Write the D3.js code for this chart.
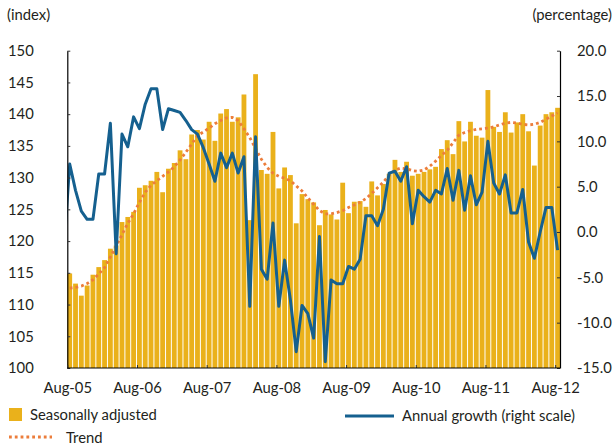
<!DOCTYPE html>
<html>
<head>
<meta charset="utf-8">
<script src="https://cdn.jsdelivr.net/npm/d3@7"></script>
<style>
  body { margin: 0; background: #fff; }
  svg text { font-family: "Lato", "Open Sans", sans-serif; fill: #231f20; }
</style>
</head>
<body>
<div id="chart"></div>
<script>
// Meses do eixo X (um a cada 12 barras)
const tickLabels = ["Aug-05", "Aug-06", "Aug-07", "Aug-08", "Aug-09", "Aug-10", "Aug-11", "Aug-12"];

// Índice dessazonalizado, Aug-05 .. Aug-12 (85 meses)
const seasonal = [
  114.9, 113.3, 111.4, 113.0, 114.7, 115.9, 117.0, 118.8, 119.3, 123.0, 123.8, 124.6,
  128.4, 128.8, 129.5, 130.9, 127.7, 131.4, 132.3, 134.3, 132.9, 136.8, 137.5, 136.0,
  138.8, 135.8, 140.1, 140.8, 138.8, 139.5, 143.1, 123.3, 146.3, 131.2, 130.6, 137.2,
  128.3, 131.6, 130.4, 122.8, 127.4, 126.6, 126.1, 122.5, 124.9, 124.2, 123.4, 129.2,
  124.4, 126.2, 126.3, 125.4, 129.4, 127.2, 129.0, 130.6, 132.8, 130.9, 132.5, 130.3,
  130.6, 130.9, 131.3, 131.7, 134.5, 135.9, 133.7, 138.9, 135.7, 138.8, 136.6, 136.3,
  143.8, 138.0, 137.2, 140.3, 137.1, 138.7, 140.0, 137.3, 131.9, 138.2, 140.0, 140.3,
  141.0
];

// Tendência
const trend = [
  112.6, 112.7, 112.9, 113.3, 113.9, 114.8, 115.8, 117.5, 119.2, 121.0, 122.8, 124.3,
  126.1, 127.7, 128.8, 129.5, 130.2, 130.9, 131.7, 132.8, 134.0, 135.3, 136.6, 137.2,
  137.8, 138.5, 139.0, 139.4, 139.5, 139.0, 137.7, 136.3, 134.6, 132.9, 131.6, 130.7,
  130.2, 129.9, 129.5, 128.7, 127.9, 126.8, 125.8, 124.8, 124.3, 124.3, 124.5, 124.8,
  125.3, 125.7, 126.1, 126.7, 127.5, 128.4, 129.3, 130.4, 131.2, 131.5, 131.4, 131.1,
  131.0, 131.2, 131.8, 132.6, 133.5, 134.3, 135.5, 136.7, 137.1, 137.4, 137.6, 137.7,
  137.8, 138.0, 138.3, 138.6, 138.7, 138.6, 138.4, 138.3, 138.4, 138.7, 139.2, 139.7,
  140.2
];

// Crescimento anual (escala direita); o primeiro valor é Jul-05, cortado pelo eixo
const growthJul05 = -1.9;
const growth = [
  7.5, 4.6, 2.3, 1.4, 1.4, 6.4, 6.4, 12.0, -2.4, 10.8, 9.4, 12.7,
  11.4, 14.1, 15.8, 15.8, 11.3, 13.6, 13.4, 13.2, 12.3, 11.3, 10.8, 9.3,
  7.5, 5.6, 8.7, 7.1, 8.7, 6.5, 8.3, -8.2, 10.5, -4.1, -5.2, 1.0,
  -8.2, -3.1, -7.5, -13.2, -8.1, -9.0, -11.7, -0.5, -14.3, -5.3, -5.7, -5.7,
  -3.8, -4.1, -3.0, 1.8, 1.8, 0.7, 2.5, 6.5, 6.7, 5.6, 7.2, 0.9,
  4.6, 3.9, 3.3, 4.6, 4.2, 7.0, 3.5, 6.8, 2.4, 6.2, 3.0, 4.4,
  10.0, 5.4, 4.2, 6.3, 2.1, 2.1, 4.7, -1.1, -2.9, 0.0, 2.7, 2.7,
  -2.0
];

const width = 616, height = 447;
const plotLeft = 67.3, plotRight = 560, plotTop = 50.7, plotBottom = 368;
const fontSize = "14.8px";

const gold = "#EAB11B", blue = "#15608F", orange = "#EC7D3B";

const svg = d3.select("#chart").append("svg")
    .attr("width", width)
    .attr("height", height);

svg.append("defs").append("clipPath")
    .attr("id", "plot-clip")
  .append("rect")
    .attr("x", plotLeft).attr("y", plotTop - 5)
    .attr("width", plotRight - plotLeft).attr("height", plotBottom - plotTop + 10);

const idx = d3.range(seasonal.length);

const x = d3.scaleBand()
    .domain(idx)
    .range([plotLeft, plotRight])
    .paddingInner(0.17)
    .paddingOuter(0);

// posição das linhas: centro de cada barra
const xc = d3.scaleLinear()
    .domain([0, idx.length - 1])
    .range([x(0) + x.bandwidth() / 2, x(idx.length - 1) + x.bandwidth() / 2]);

// posição dos ticks: início de cada barra
const xt = d3.scaleLinear()
    .domain([0, idx.length - 1])
    .range([x(0), x(idx.length - 1)]);

const yL = d3.scaleLinear().domain([100, 150]).range([plotBottom, plotTop]);
const yR = d3.scaleLinear().domain([-15, 20]).range([plotBottom, plotTop]);

// Barras
svg.append("g")
    .selectAll("rect")
    .data(seasonal)
    .join("rect")
    .attr("x", (d, i) => x(i))
    .attr("y", d => yL(d))
    .attr("width", x.bandwidth())
    .attr("height", d => yL(100) - yL(d))
    .attr("fill", gold);

// Tendência (pontilhada)
svg.append("path")
    .datum(trend)
    .attr("clip-path", "url(#plot-clip)")
    .attr("fill", "none")
    .attr("stroke", orange)
    .attr("stroke-width", 2.8)
    .attr("stroke-dasharray", "2.8,3")
    .attr("d", d3.line().x((d, i) => xc(i)).y(d => yL(d)));

// Crescimento anual
const growthPts = [{i: -1, v: growthJul05}].concat(growth.map((v, i) => ({i, v})));
svg.append("path")
    .datum(growthPts)
    .attr("clip-path", "url(#plot-clip)")
    .attr("fill", "none")
    .attr("stroke", blue)
    .attr("stroke-width", 3)
    .attr("stroke-linejoin", "round")
    .attr("d", d3.line().x(d => xc(d.i)).y(d => yR(d.v)));

// Eixo esquerdo
const axL = svg.append("g")
    .attr("transform", `translate(${plotLeft},0)`)
    .call(d3.axisLeft(yL).tickValues(d3.range(100, 151, 5)).tickSizeInner(-3).tickSizeOuter(0));
axL.selectAll("text")
    .attr("text-anchor", "start")
    .attr("x", 8 - plotLeft)
    .style("font-size", fontSize);

// Eixo direito
const axR = svg.append("g")
    .attr("transform", `translate(${plotRight},0)`)
    .call(d3.axisRight(yR).tickValues(d3.range(-15, 21, 5)).tickSizeInner(-3).tickSizeOuter(0)
        .tickPadding(17).tickFormat(d => d.toFixed(1)));
axR.selectAll("text").style("font-size", fontSize);

// Eixo inferior
const axB = svg.append("g")
    .attr("transform", `translate(0,${plotBottom})`)
    .call(d3.axisBottom(xt).tickValues(d3.range(0, idx.length, 12)).tickSizeInner(-3).tickSizeOuter(0)
        .tickPadding(14).tickFormat((d, i) => tickLabels[i]));
axB.select(".domain").remove();
axB.selectAll("text").style("font-size", fontSize);
svg.append("line")
    .attr("x1", plotLeft).attr("x2", plotRight)
    .attr("y1", plotBottom).attr("y2", plotBottom)
    .attr("stroke", "#000");

svg.selectAll(".domain").attr("stroke", "#000").attr("stroke-width", 1.2);
svg.selectAll(".tick line").attr("stroke", "#333");

// Títulos dos eixos
svg.append("text").attr("x", 7).attr("y", 20).style("font-size", fontSize).text("(index)");
svg.append("text").attr("x", 612).attr("y", 20).attr("text-anchor", "end")
    .style("font-size", fontSize).text("(percentage)");

// Legenda
const legend = svg.append("g").style("font-size", fontSize);
legend.append("rect").attr("x", 9).attr("y", 408).attr("width", 13).attr("height", 13).attr("fill", gold);
legend.append("text").attr("x", 30).attr("y", 420).text("Seasonally adjusted");
legend.append("line").attr("x1", 345).attr("x2", 394).attr("y1", 416).attr("y2", 416)
    .attr("stroke", blue).attr("stroke-width", 3);
legend.append("text").attr("x", 402).attr("y", 421).text("Annual growth (right scale)");
legend.append("line").attr("x1", 9).attr("x2", 52).attr("y1", 437).attr("y2", 437)
    .attr("stroke", orange).attr("stroke-width", 2.8).attr("stroke-dasharray", "2.8,3");
legend.append("text").attr("x", 66).attr("y", 443).text("Trend");
</script>
</body>
</html>
